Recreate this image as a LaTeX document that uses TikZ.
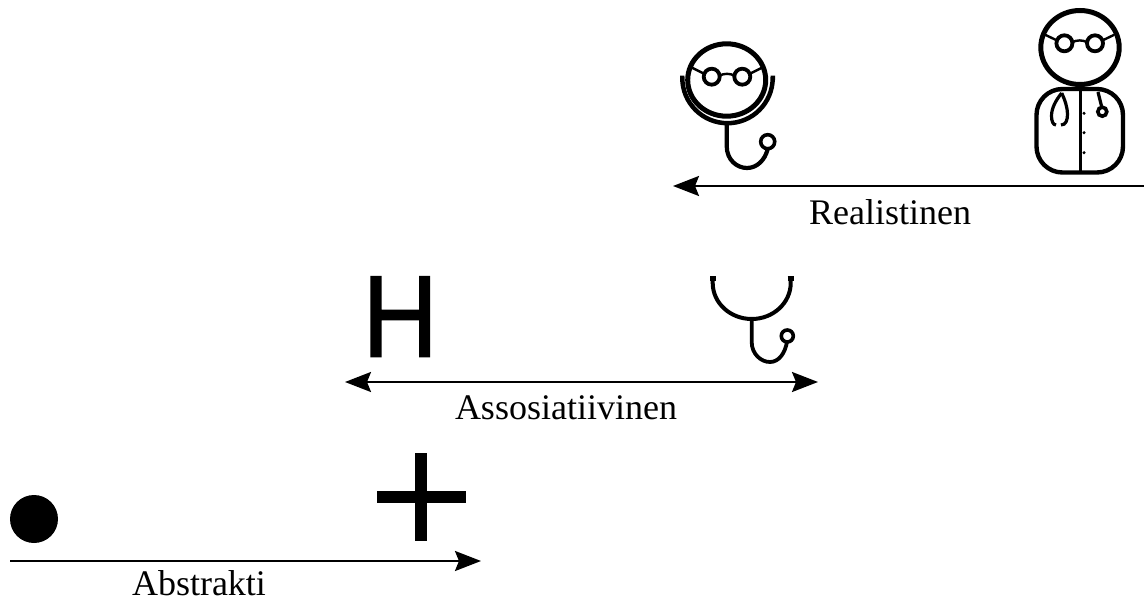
\documentclass[tikz,border=0pt]{standalone}
\usepackage{fontspec}
\setmainfont{Liberation Serif}
\newfontfamily\hfont[FakeBold=1.4]{Liberation Sans}
\usetikzlibrary{arrows.meta}
\tikzset{
  lbl/.style={font=\fontsize{36}{40}\selectfont, inner sep=0pt, anchor=base},
  axis/.style={line width=2.2pt, -{Stealth[length=26pt,width=20pt,inset=4pt]}},
  biaxis/.style={line width=2.2pt, {Stealth[length=26pt,width=20pt,inset=4pt]}-{Stealth[length=26pt,width=20pt,inset=4pt]}},
  thick line/.style={line width=5pt},
  med line/.style={line width=3.8pt},
  thin line/.style={line width=2.4pt},
}
\newcommand{\glasses}[4]{%
  \begin{scope}[shift={(#1,#2)}]
    \draw[med line] (-15.3,0) circle (8);
    \draw[med line] (15.3,0) circle (8);
    \draw[thin line] (-7.5,-1) .. controls (-3,-3.5) and (3,-3.5) .. (7.5,-1);
    \draw[thin line] (-23,-3) -- (-#3,-#4);
    \draw[thin line] (23,-3) -- (#3,-#4);
  \end{scope}
}
\begin{document}
\begin{tikzpicture}[x=1pt,y=-1pt]
\useasboundingbox (0,0) rectangle (1144,599);
\fill[white] (0,0) rectangle (1144,599);
% Realistic row
\draw[thick line] (726.7,80) ellipse [x radius=39, y radius=36.2];
\glasses{727}{76.7}{35}{9}
\draw[line width=4.5pt] (680,78) -- (682.3,78) arc[start angle=180,end angle=0,x radius=45.2,y radius=45.2] -- (775,78);
\draw[line width=4.2pt] (726.7,123) -- (726.7,146) .. controls (726.7,160) and (737,168) .. (747,168) .. controls (757,168) and (765,160) .. (767.7,149);
\draw[line width=3.6pt] (767.7,141.7) circle (7);
\draw[thick line] (1080,47.5) ellipse [x radius=39.2, y radius=37];
\glasses{1079.7}{43.3}{34.5}{8.5}
\draw[line width=4.4pt,rounded corners=26pt] (1036.5,89) rectangle (1123,172.5);
\draw[line width=3pt] (1080,89) -- (1080,172.5);
\fill (1084,113.3) circle (1.7) (1084,132.7) circle (1.7) (1084,152.7) circle (1.7);
\draw[line width=3.2pt] (1061.7,93) .. controls (1056,100) and (1051.5,108) .. (1051.5,116) .. controls (1051.5,121) and (1053,125) .. (1056,125);
\draw[line width=3.2pt] (1061.7,93) .. controls (1065,100) and (1067.5,108) .. (1067.5,114) .. controls (1067.5,120) and (1066,125) .. (1061,125);
\draw[line width=3.2pt] (1098,92) -- (1101.5,106);
\draw[line width=3.6pt] (1102.3,111.7) circle (4.5);
\coordinate (rs) at (1144,186);
\coordinate (re) at (673,186);
\draw[axis] (rs) -- (re);
\node[lbl] (realistinen) at (890,224) {Realistinen};
% Associative row
\node[inner sep=0pt,anchor=base,xscale=0.9,transform shape,font=\hfont\fontsize{116}{116}\selectfont] (h) at (400.3,356.5) {H};
\draw[line width=4pt] (712.7,276) -- (712.7,283) arc[start angle=180,end angle=0,x radius=39,y radius=36] -- (790.7,276);
\draw[line width=5pt] (710,278) -- (716,278);
\draw[line width=5pt] (787.5,278) -- (793.5,278);
\draw[line width=3.8pt] (751.7,319) -- (751.7,342) .. controls (751.7,354) and (761,362) .. (770,362) .. controls (779,362) and (785,353) .. (787,342);
\draw[line width=3.6pt] (787.3,336) circle (6);
\coordinate (al) at (345,382);
\coordinate (ar) at (818,382);
\draw[biaxis] (al) -- (ar);
\node[lbl] (assosiatiivinen) at (566,419) {Assosiatiivinen};
% Abstract row
\fill (34,519) circle (24);
\fill (415,452.5) rectangle (427.3,540.7);
\fill (376.7,491) rectangle (465.7,502.7);
\coordinate (bs) at (10,561);
\coordinate (be) at (481,561);
\draw[axis] (bs) -- (be);
\node[lbl] (abstrakti) at (199,595) {Abstrakti};
\end{tikzpicture}
\end{document}
